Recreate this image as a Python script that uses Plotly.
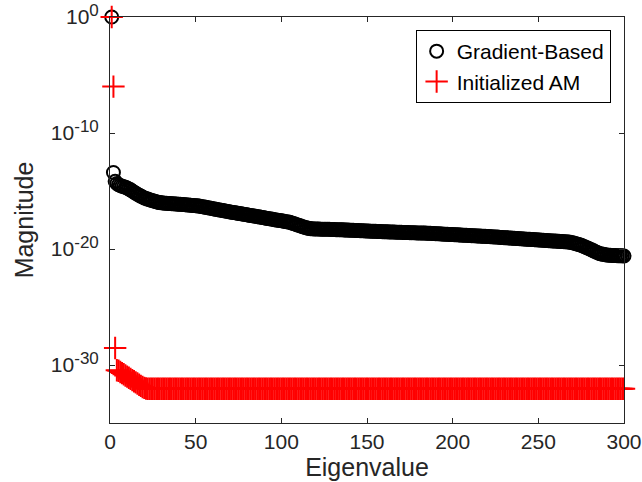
import plotly.graph_objects as go

# log10 of magnitude, eigenvalue index 1..300
grad_log10 = [
    0.00, -13.40, -14.17, -14.35, -14.46, -14.52, -14.58, -14.63, -14.68, -14.74,
    -14.82, -14.90, -15.00, -15.10, -15.19, -15.28, -15.36, -15.44, -15.52, -15.60,
    -15.65, -15.70, -15.75, -15.80, -15.84, -15.88, -15.92, -15.96, -16.00, -16.02,
    -16.03, -16.05, -16.06, -16.07, -16.08, -16.09, -16.10, -16.11, -16.12, -16.14,
    -16.15, -16.16, -16.17, -16.19, -16.20, -16.21, -16.23, -16.24, -16.25, -16.27,
    -16.28, -16.30, -16.33, -16.35, -16.38, -16.41, -16.44, -16.47, -16.49, -16.52,
    -16.55, -16.58, -16.61, -16.63, -16.66, -16.69, -16.72, -16.74, -16.77, -16.80,
    -16.83, -16.85, -16.88, -16.90, -16.93, -16.95, -16.98, -17.00, -17.03, -17.05,
    -17.08, -17.11, -17.13, -17.16, -17.18, -17.21, -17.23, -17.26, -17.29, -17.31,
    -17.34, -17.36, -17.39, -17.42, -17.44, -17.47, -17.49, -17.52, -17.54, -17.57,
    -17.59, -17.62, -17.65, -17.67, -17.70, -17.75, -17.80, -17.85, -17.90, -17.95,
    -18.00, -18.05, -18.10, -18.14, -18.18, -18.22, -18.25, -18.26, -18.27, -18.27,
    -18.28, -18.28, -18.29, -18.29, -18.29, -18.30, -18.30, -18.30, -18.31, -18.31,
    -18.32, -18.33, -18.33, -18.34, -18.35, -18.35, -18.36, -18.37, -18.37, -18.38,
    -18.39, -18.39, -18.40, -18.41, -18.41, -18.42, -18.43, -18.43, -18.44, -18.45,
    -18.45, -18.46, -18.47, -18.47, -18.48, -18.49, -18.49, -18.50, -18.51, -18.51,
    -18.52, -18.52, -18.53, -18.53, -18.54, -18.54, -18.55, -18.55, -18.56, -18.56,
    -18.57, -18.57, -18.58, -18.58, -18.59, -18.59, -18.60, -18.60, -18.61, -18.61,
    -18.62, -18.62, -18.63, -18.63, -18.64, -18.64, -18.65, -18.66, -18.67, -18.68,
    -18.68, -18.69, -18.70, -18.71, -18.72, -18.73, -18.73, -18.74, -18.75, -18.76,
    -18.77, -18.77, -18.78, -18.79, -18.80, -18.81, -18.82, -18.82, -18.83, -18.84,
    -18.85, -18.86, -18.86, -18.87, -18.88, -18.89, -18.90, -18.91, -18.91, -18.92,
    -18.93, -18.94, -18.95, -18.96, -18.96, -18.97, -18.98, -19.00, -19.01, -19.02,
    -19.03, -19.04, -19.05, -19.06, -19.07, -19.08, -19.09, -19.10, -19.11, -19.12,
    -19.13, -19.14, -19.15, -19.16, -19.17, -19.18, -19.19, -19.20, -19.21, -19.22,
    -19.23, -19.24, -19.25, -19.26, -19.27, -19.28, -19.29, -19.30, -19.31, -19.32,
    -19.33, -19.34, -19.35, -19.36, -19.37, -19.38, -19.39, -19.40, -19.43, -19.46,
    -19.50, -19.54, -19.58, -19.63, -19.68, -19.74, -19.80, -19.86, -19.93, -20.00,
    -20.07, -20.14, -20.21, -20.28, -20.34, -20.40, -20.43, -20.46, -20.49, -20.51,
    -20.53, -20.54, -20.55, -20.56, -20.57, -20.58, -20.58, -20.59, -20.59, -20.60,
]

am_log10 = [
    0.00, -6.00, -28.53, -30.45, -30.50, -30.60, -30.70, -30.80, -30.90, -31.00,
    -31.10, -31.20, -31.30, -31.40, -31.50, -31.60, -31.70, -31.80, -31.90, -31.97,
    -32.02, -32.05, -32.05, -32.05, -32.05, -32.05, -32.05, -32.05, -32.05, -32.05,
    -32.05, -32.05, -32.05, -32.05, -32.05, -32.05, -32.05, -32.05, -32.05, -32.05,
    -32.05, -32.05, -32.05, -32.05, -32.05, -32.05, -32.05, -32.05, -32.05, -32.05,
    -32.05, -32.05, -32.05, -32.05, -32.05, -32.05, -32.05, -32.05, -32.05, -32.05,
    -32.05, -32.05, -32.05, -32.05, -32.05, -32.05, -32.05, -32.05, -32.05, -32.05,
    -32.05, -32.05, -32.05, -32.05, -32.05, -32.05, -32.05, -32.05, -32.05, -32.05,
    -32.05, -32.05, -32.05, -32.05, -32.05, -32.05, -32.05, -32.05, -32.05, -32.05,
    -32.05, -32.05, -32.05, -32.05, -32.05, -32.05, -32.05, -32.05, -32.05, -32.05,
    -32.05, -32.05, -32.05, -32.05, -32.05, -32.05, -32.05, -32.05, -32.05, -32.05,
    -32.05, -32.05, -32.05, -32.05, -32.05, -32.05, -32.05, -32.05, -32.05, -32.05,
    -32.05, -32.05, -32.05, -32.05, -32.05, -32.05, -32.05, -32.05, -32.05, -32.05,
    -32.05, -32.05, -32.05, -32.05, -32.05, -32.05, -32.05, -32.05, -32.05, -32.05,
    -32.05, -32.05, -32.05, -32.05, -32.05, -32.05, -32.05, -32.05, -32.05, -32.05,
    -32.05, -32.05, -32.05, -32.05, -32.05, -32.05, -32.05, -32.05, -32.05, -32.05,
    -32.05, -32.05, -32.05, -32.05, -32.05, -32.05, -32.05, -32.05, -32.05, -32.05,
    -32.05, -32.05, -32.05, -32.05, -32.05, -32.05, -32.05, -32.05, -32.05, -32.05,
    -32.05, -32.05, -32.05, -32.05, -32.05, -32.05, -32.05, -32.05, -32.05, -32.05,
    -32.05, -32.05, -32.05, -32.05, -32.05, -32.05, -32.05, -32.05, -32.05, -32.05,
    -32.05, -32.05, -32.05, -32.05, -32.05, -32.05, -32.05, -32.05, -32.05, -32.05,
    -32.05, -32.05, -32.05, -32.05, -32.05, -32.05, -32.05, -32.05, -32.05, -32.05,
    -32.05, -32.05, -32.05, -32.05, -32.05, -32.05, -32.05, -32.05, -32.05, -32.05,
    -32.05, -32.05, -32.05, -32.05, -32.05, -32.05, -32.05, -32.05, -32.05, -32.05,
    -32.05, -32.05, -32.05, -32.05, -32.05, -32.05, -32.05, -32.05, -32.05, -32.05,
    -32.05, -32.05, -32.05, -32.05, -32.05, -32.05, -32.05, -32.05, -32.05, -32.05,
    -32.05, -32.05, -32.05, -32.05, -32.05, -32.05, -32.05, -32.05, -32.05, -32.05,
    -32.05, -32.05, -32.05, -32.05, -32.05, -32.05, -32.05, -32.05, -32.05, -32.05,
    -32.05, -32.05, -32.05, -32.05, -32.05, -32.05, -32.05, -32.05, -32.05, -32.05,
    -32.05, -32.05, -32.05, -32.05, -32.05, -32.05, -32.05, -32.05, -32.05, -32.05,
]

eig_index = list(range(1, len(grad_log10) + 1))
x_ticks = [0, 50, 100, 150, 200, 250, 300]
y_tick_exps = [-30, -20, -10, 0]
y_tick_labels = [
    "10<sup><span style='font-size:17px'>-30</span></sup>",
    "10<sup><span style='font-size:17px'>-20</span></sup>",
    "10<sup><span style='font-size:17px'>-10</span></sup>",
    "10<sup><span style='font-size:17px'>0</span></sup>",
]

FONT = "Liberation Sans, Arial, Helvetica, sans-serif"
AX = "#262626"

grad_vals = [10 ** v for v in grad_log10]
am_vals = [10 ** v for v in am_log10]

fig = go.Figure()
fig.add_trace(go.Scatter(
    x=eig_index, y=grad_vals, mode="markers", name="Gradient-Based",
    cliponaxis=False,
    marker=dict(symbol="circle-open", size=13, color="black",
                line=dict(color="black", width=2)),
))
fig.add_trace(go.Scatter(
    x=eig_index, y=am_vals, mode="markers", name="Initialized AM",
    cliponaxis=False,
    marker=dict(symbol="cross-thin-open", size=16, color="red",
                line=dict(color="red", width=2)),
))

fig.update_layout(
    width=642, height=482,
    margin=dict(l=110, r=18, t=17, b=59, autoexpand=False),
    paper_bgcolor="white", plot_bgcolor="white",
    font=dict(family=FONT, color=AX),
    showlegend=True,
    legend=dict(
        x=0.974, y=0.968, xanchor="right", yanchor="top",
        bgcolor="white", bordercolor="black", borderwidth=1,
        font=dict(family=FONT, size=21, color="black"),
        tracegroupgap=0, itemwidth=30,
    ),
)
fig.update_xaxes(
    range=[0, 300], tickvals=x_ticks, ticks="inside", ticklen=5,
    tickcolor=AX, linecolor=AX, linewidth=1, mirror="ticks",
    showgrid=False, zeroline=False, automargin=False,
    tickfont=dict(family=FONT, size=21, color=AX),
    title=dict(text="Eigenvalue", font=dict(family=FONT, size=25, color=AX), standoff=5),
)
fig.update_yaxes(
    type="log", range=[-35, 0],
    tickvals=[10 ** e for e in y_tick_exps], ticktext=y_tick_labels,
    ticks="inside", ticklen=5, ticklabelstandoff=6,
    tickcolor=AX, linecolor=AX, linewidth=1, mirror="ticks",
    showgrid=False, zeroline=False, automargin=False,
    tickfont=dict(family=FONT, size=21, color=AX),
    title=dict(text="Magnitude", font=dict(family=FONT, size=25, color=AX), standoff=10),
)

fig.write_html(
    "out.html",
    config={"displayModeBar": False},
    post_script="document.body.style.margin='0px';document.body.style.overflow='hidden';",
)
